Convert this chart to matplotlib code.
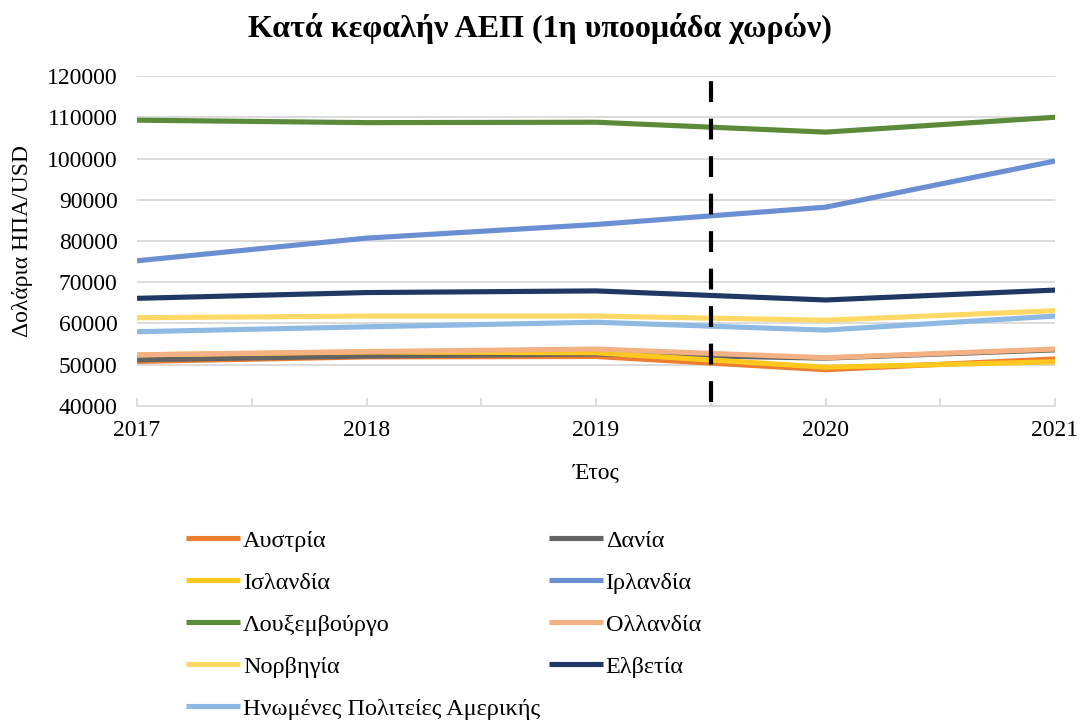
import matplotlib
matplotlib.use("Agg")
import matplotlib.pyplot as plt
from matplotlib.ticker import MultipleLocator

plt.rcParams['font.family'] = ['Liberation Serif', 'DejaVu Serif']

# Data
years = [2017, 2018, 2019, 2020, 2021]

countries = ["Αυστρία", "Δανία", "Ισλανδία", "Ιρλανδία", "Λουξεμβούργο",
             "Ολλανδία", "Νορβηγία", "Ελβετία", "Ηνωμένες Πολιτείες Αμερικής"]

austria = [50800, 51900, 52000, 48800, 51400]
denmark = [51200, 52100, 52600, 51600, 53600]
iceland = [52400, 53100, 52900, 49400, 50700]
ireland = [75200, 80700, 84000, 88200, 99400]
luxembourg = [109300, 108700, 108800, 106400, 110000]
netherlands = [52400, 53200, 53800, 51700, 53800]
norway = [61400, 61800, 61800, 60800, 63100]
switzerland = [66100, 67500, 67900, 65700, 68100]
usa = [58000, 59200, 60300, 58400, 61800]

series = [austria, denmark, iceland, ireland, luxembourg,
          netherlands, norway, switzerland, usa]
colors = ["#ED7D31", "#636363", "#FFC81E", "#6A8FD2", "#5B8A3A",
          "#F4B183", "#FFD966", "#203864", "#8DB9E3"]

split_year = 2019.5

fig = plt.figure(figsize=(10.8, 7.22), dpi=100)
ax = fig.add_axes([0.1269, 0.4377, 0.85, 0.457])

lines = {}
for name, vals, c in zip(countries, series, colors):
    ln, = ax.plot(years, vals, color=c, linewidth=3.7, solid_capstyle='butt')
    lines[name] = ln

ax.axvline(split_year, ymin=0.012, ymax=0.988, color='black',
           linewidth=3, dashes=(5, 4))

ax.set_xlim(2017, 2021)
ax.set_ylim(40000, 120000)
ax.yaxis.set_major_locator(MultipleLocator(10000))
ax.set_xticks(years)
ax.xaxis.set_minor_locator(MultipleLocator(0.5))
ax.grid(axis='y', color='#D9D9D9', linewidth=1.3)
ax.set_axisbelow(True)

for s in ['top', 'right', 'left']:
    ax.spines[s].set_visible(False)
ax.spines['bottom'].set_color('#D9D9D9')
ax.spines['bottom'].set_linewidth(1.3)

ax.tick_params(axis='y', length=0, labelsize=17, pad=14)
ax.tick_params(axis='x', which='both', direction='in', length=6,
               color='#D9D9D9', width=1.3, labelsize=17, pad=10)

fig.text(0.5, 0.961, "Κατά κεφαλήν ΑΕΠ (1η υποομάδα χωρών)", fontsize=23,
         fontweight='bold', ha='center', va='center')
ax.set_ylabel("Δολάρια ΗΠΑ/USD", fontsize=17, labelpad=10)
ax.set_xlabel("Έτος", fontsize=17, labelpad=16)

# legend, row-wise order like the original
order = ["Αυστρία", "Ισλανδία", "Λουξεμβούργο", "Νορβηγία",
         "Ηνωμένες Πολιτείες Αμερικής",
         "Δανία", "Ιρλανδία", "Ολλανδία", "Ελβετία"]
leg = fig.legend([lines[n] for n in order], order, ncol=2,
                 loc='upper left', bbox_to_anchor=(0.172, 0.266),
                 frameon=False, fontsize=17.5, handlelength=2.25,
                 handletextpad=0.1, columnspacing=0.35, labelspacing=0.82,
                 borderpad=0, borderaxespad=0)

fig.savefig("out.png", dpi=100)
